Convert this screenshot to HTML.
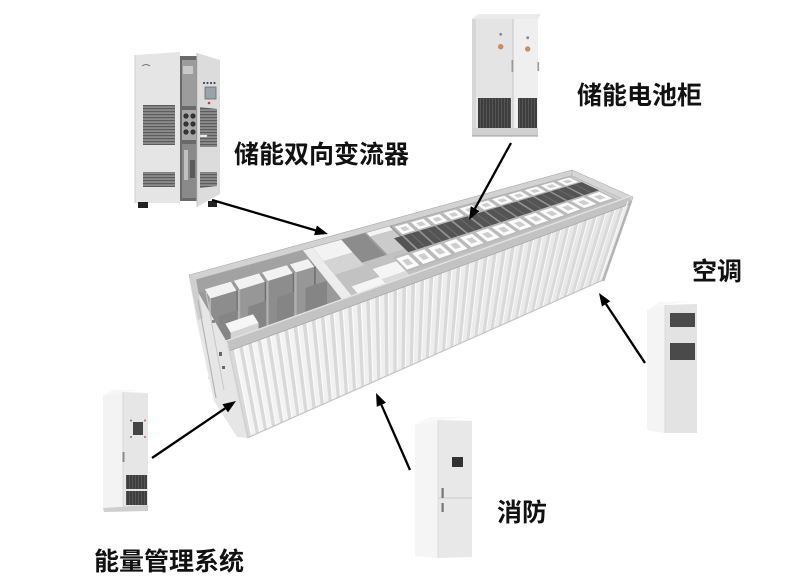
<!DOCTYPE html>
<html><head><meta charset="utf-8">
<style>
html,body{margin:0;padding:0;background:#fff;width:787px;height:588px;overflow:hidden;}
svg{display:block;}
.lbl{font-family:"Liberation Sans","Noto Sans CJK SC",sans-serif;font-weight:bold;font-size:25px;fill:#111;}
</style></head><body>
<svg id="s" width="787" height="588" viewBox="0 0 787 588" xmlns="http://www.w3.org/2000/svg">
<defs>
<pattern id="vent" width="4" height="3" patternUnits="userSpaceOnUse"><rect width="4" height="3" fill="#8c8c8c"/><rect width="4" height="1.2" fill="#5c5c5c"/></pattern>
<pattern id="dvent" width="3" height="3" patternUnits="userSpaceOnUse"><rect width="3" height="3" fill="#3e3e3e"/><rect width="1" height="3" fill="#555"/></pattern>
<linearGradient id="ff" gradientUnits="userSpaceOnUse" x1="228" y1="0" x2="630" y2="0"><stop offset="0" stop-color="#f5f5f5"/><stop offset="1" stop-color="#e6e6e6"/></linearGradient>
</defs>
<rect width="787" height="588" fill="#fff"/>

<!-- container interior -->
<polygon points="190,278 572,173 630,200 228,345" fill="#b4b4b4"/>
<g id="inner"></g>
<!-- far rail -->
<polygon points="189,275 572,170 574,175 191,281" fill="#d2d2d2" stroke="#a8a8a8" stroke-width="0.6"/>
<!-- right end rail -->
<polygon points="572,170 633,197 631,203 572,176" fill="#d6d6d6" stroke="#aaa" stroke-width="0.6"/>
<!-- front face -->
<polygon points="228,345 630,200 603,280 247,438" fill="url(#ff)"/>
<g id="stripes"></g>
<line x1="247" y1="438" x2="603" y2="280" stroke="#c4c4c4" stroke-width="1.2"/>
<!-- near rail -->
<polygon points="226,341 631,196 630,204 229,351" fill="#c3c3c3"/>
<line x1="226" y1="341" x2="631" y2="196" stroke="#e2e2e2" stroke-width="1.4"/>
<line x1="229" y1="351" x2="630" y2="204" stroke="#a9a9a9" stroke-width="0.8"/>
<!-- left end face -->
<polygon points="189,277 228,344 248,438 237,437 214,401 196,318" fill="#e6e6e6"/>
<polygon points="189,277 196,279 203,318 198,320" fill="#cfcfcf"/>
<line x1="198" y1="300" x2="216" y2="398" stroke="#b5b5b5" stroke-width="1.2"/>
<line x1="206" y1="292" x2="224" y2="390" stroke="#c8c8c8" stroke-width="1"/>
<rect x="219" y="352" width="3" height="4" fill="#666"/>
<rect x="222" y="366" width="3" height="3" fill="#666"/>
<rect x="212" y="320" width="3" height="3" fill="#888"/>
<line x1="228" y1="345" x2="248" y2="438" stroke="#cfcfcf" stroke-width="1.5"/>
<!-- right post -->
<line x1="631" y1="201" x2="603" y2="281" stroke="#b3b3b3" stroke-width="2.5"/>
<line x1="628" y1="201" x2="601" y2="279" stroke="#f4f4f4" stroke-width="1"/>

<!-- PCS cabinet -->
<polygon points="135,55 180,52 180,203 135,203" fill="#e5e5e5"/>
<line x1="135" y1="55" x2="135" y2="203" stroke="#cfcfcf" stroke-width="1"/>
<rect x="143" y="105" width="32" height="40" fill="url(#vent)"/>
<rect x="143" y="172" width="32" height="15" fill="url(#vent)"/>
<path d="M142 66 q4 -3 8 0" stroke="#777" stroke-width="1" fill="none"/>
<rect x="180" y="56" width="18" height="145" fill="#6a6a6a"/>
<rect x="182" y="60" width="14" height="46" fill="#9c9c9c"/>
<rect x="183" y="66" width="10" height="8" fill="#c8c8c8"/>
<rect x="182" y="110" width="14" height="30" fill="#a8a8a8"/>
<circle cx="186" cy="116" r="2.6" fill="#333"/><circle cx="193" cy="116" r="2.6" fill="#333"/>
<circle cx="186" cy="124" r="2.6" fill="#333"/><circle cx="193" cy="124" r="2.6" fill="#333"/>
<circle cx="186" cy="132" r="2.6" fill="#333"/><circle cx="193" cy="132" r="2.6" fill="#333"/>
<rect x="182" y="144" width="14" height="54" fill="#8a8a8a"/>
<rect x="184" y="150" width="4" height="30" fill="#c0c0c0"/>
<rect x="190" y="160" width="5" height="18" fill="#5a5a5a"/>
<polygon points="197,53 220,60 220,194 197,207" fill="#dcdcdc"/>
<line x1="197" y1="53" x2="197" y2="207" stroke="#c4c4c4" stroke-width="1"/>
<polygon points="200,107 217,109 217,147 200,147" fill="url(#vent)"/>
<polygon points="200,172 217,172 217,186 200,188" fill="url(#vent)"/>
<rect x="205" y="87" width="11" height="12" fill="#9aa2aa" stroke="#6a6a6a" stroke-width="0.8"/>
<circle cx="204" cy="83" r="1.1" fill="#446"/><circle cx="207.5" cy="83" r="1.1" fill="#446"/>
<circle cx="211" cy="83" r="1.1" fill="#446"/><circle cx="214.5" cy="83" r="1.1" fill="#446"/>
<circle cx="209" cy="103" r="1.3" fill="#d33"/>
<rect x="200" y="135" width="7" height="2" fill="#fafafa" stroke="#aaa" stroke-width="0.4"/>
<rect x="138" y="202" width="10" height="6" fill="#222"/>
<rect x="208" y="201" width="9" height="6" fill="#222"/>

<!-- Battery cabinet -->
<polygon points="472,19 478,14 541,14 538,19" fill="#eaeaea"/>
<rect x="472" y="19" width="41" height="110" fill="#e4e4e4"/>
<rect x="472" y="19" width="4" height="110" fill="#d6d6d6"/>
<rect x="513" y="19" width="25" height="110" fill="#efefef"/>
<line x1="513" y1="19" x2="513" y2="129" stroke="#c6c6c6" stroke-width="1"/>
<rect x="478" y="98" width="33" height="30" fill="url(#dvent)"/>
<rect x="518" y="98" width="19" height="30" fill="url(#dvent)"/>
<rect x="472" y="128" width="66" height="8" fill="#d0d0d0"/>
<line x1="472" y1="136" x2="538" y2="136" stroke="#9a9a9a" stroke-width="1"/>
<circle cx="500.7" cy="34.3" r="1.4" fill="#888"/>
<circle cx="500.7" cy="46.7" r="2.4" fill="#e08a4a" stroke="#999" stroke-width="0.6"/>
<circle cx="527.7" cy="37.7" r="1.4" fill="#888"/>
<circle cx="527.7" cy="49" r="2.4" fill="#e08a4a" stroke="#999" stroke-width="0.6"/>
<rect x="511.5" y="60" width="1.8" height="12" fill="#9a9a9a"/>
<rect x="537.5" y="62" width="1.6" height="9" fill="#9a9a9a"/>

<!-- Air conditioner -->
<polygon points="647,310 665,305 665,433 647,430" fill="#f4f4f4"/>
<polygon points="665,305 697,304 697,433 665,433" fill="#e3e3e3"/>
<polygon points="647,310 660,302 692,301 665,305" fill="#f7f7f7"/>
<rect x="670" y="313" width="25" height="14" fill="#4a4a4a"/>
<rect x="670" y="343" width="25" height="17" fill="#4a4a4a"/>
<line x1="665" y1="305" x2="665" y2="433" stroke="#d6d6d6" stroke-width="0.8"/>

<!-- Fire system -->
<polygon points="415,425 438,420 438,558 415,556" fill="#f5f5f5"/>
<polygon points="438,420 472,421 472,557 438,558" fill="#e8e8e8"/>
<polygon points="415,425 430,417 466,417 438,420" fill="#f8f8f8"/>
<line x1="438" y1="498" x2="472" y2="498" stroke="#cdcdcd" stroke-width="1"/>
<line x1="438" y1="420" x2="438" y2="558" stroke="#d8d8d8" stroke-width="0.8"/>
<rect x="452" y="457" width="11" height="10" fill="#333"/>
<rect x="441.5" y="488" width="2.2" height="10" fill="#777"/>
<rect x="441.5" y="503" width="2.2" height="9" fill="#777"/>

<!-- EMS -->
<polygon points="103,396 123,392 123,507 103,509" fill="#f3f3f3"/>
<polygon points="123,392 148,393 148,506 123,507" fill="#e6e6e6"/>
<polygon points="103,396 113,390 140,390 123,392" fill="#f6f6f6"/>
<line x1="123" y1="392" x2="123" y2="507" stroke="#d4d4d4" stroke-width="0.8"/>
<rect x="133" y="422" width="10" height="13" fill="#444"/>
<circle cx="131" cy="420.5" r="1" fill="#777"/><circle cx="145" cy="420.5" r="1" fill="#d55"/>
<circle cx="131" cy="437" r="1" fill="#777"/><circle cx="145" cy="437" r="1" fill="#d55"/>
<rect x="122.5" y="452" width="2" height="10" fill="#888"/>
<rect x="126" y="475" width="21" height="14" fill="url(#dvent)"/>
<rect x="126" y="491" width="21" height="14" fill="url(#dvent)"/>
<polygon points="103,508 148,505 148,511 104,512" fill="#cfcfcf"/>

<!-- arrows -->
<g stroke="#000" stroke-width="2.3" fill="none">
<line x1="212" y1="200" x2="316" y2="230.5"/>
<line x1="511" y1="143" x2="475" y2="208.6"/>
<line x1="645" y1="363" x2="606" y2="304"/>
<line x1="410" y1="470" x2="381.4" y2="404.8"/>
<line x1="152" y1="458" x2="225.2" y2="408.3"/>
</g>
<g fill="#000">
<polygon points="328,234 314.1,235.1 316.9,225.5"/>
<polygon points="469,220 470.8,206.2 479.6,211"/>
<polygon points="599,293 610.3,301.2 601.9,306.6"/>
<polygon points="376,393 386,402.7 376.8,406.9"/>
<polygon points="236,401 228,412.4 222.4,404.2"/>
</g>

<!-- labels -->
<text class="lbl" x="234" y="163">储能双向变流器</text>
<text class="lbl" x="577" y="104">储能电池柜</text>
<text class="lbl" x="692" y="280">空调</text>
<text class="lbl" x="497" y="521">消防</text>
<text class="lbl" x="94" y="570">能量管理系统</text>
</svg>
<script>
(function(){
var NS="http://www.w3.org/2000/svg";
var inner=document.getElementById("inner");
var str=document.getElementById("stripes");
function P(t,s){return [190+38*s+(382+20*s)*t, 278+67*s-(105+40*s)*t];}
function poly(pts,fill,parent){var e=document.createElementNS(NS,"polygon");
 e.setAttribute("points",pts.map(function(p){return p[0].toFixed(1)+","+p[1].toFixed(1);}).join(" "));
 e.setAttribute("fill",fill);parent.appendChild(e);return e;}
function Q(t0,t1,s0,s1,fill){return poly([P(t0,s0),P(t1,s0),P(t1,s1),P(t0,s1)],fill,inner);}
function V(t0,t1,s,h,fill){var a=P(t0,s),b=P(t1,s);return poly([a,b,[b[0],b[1]+h],[a[0],a[1]+h]],fill,inner);}
// left compartment
Q(0,0.29,0,0.22,"#a2a2a2");
Q(0,0.29,0.22,1,"#9a9a9a");
var cb=[0.015,0.09,0.163,0.235,0.29];
for(var i=0;i<4;i++){
 V(cb[i],cb[i+1],0.34,80,i%2?"#979797":"#8d8d8d");
 V(cb[i],cb[i]+0.006,0.34,80,"#b0b0b0");
 V(cb[i+1]-0.004,cb[i+1],0.34,80,"#707070");
 Q(cb[i]+0.004,cb[i+1]-0.004,0.2,0.34,"#f2f2f2");
 V(cb[i],cb[i+1],0.6,40,"#858585");
}
Q(0.02,0.09,0.72,0.86,"#f6f6f6");
V(0.02,0.09,0.86,20,"#d4d4d4");
// divider
Q(0.29,0.315,0,1,"#ededed");
// middle
Q(0.315,0.45,0,0.5,"#8c8c8c");
Q(0.315,0.5,0.5,1,"#c2c2c2");
Q(0.315,0.39,0.02,0.3,"#f3f3f3");
Q(0.315,0.39,0.3,0.55,"#d4d4d4");
Q(0.33,0.4,0.8,1,"#f5f5f5");
Q(0.4,0.46,0.65,0.85,"#f5f5f5");
Q(0.4,0.46,0.85,1,"#dadada");
Q(0.45,0.52,0,0.5,"#9a9a9a");
Q(0.455,0.515,0.03,0.13,"#f4f4f4");
Q(0.455,0.515,0.13,0.5,"#cbcbcb");
// battery racks
Q(0.52,0.985,0,0.06,"#a8a8a8");
Q(0.5,0.985,0.27,0.57,"#545454");
function mod(t0,t1,s0,s1){var d=t1-t0,e=s1-s0;
 Q(t0,t1,s0,s1,"#bababa");
 Q(t0+0.12*d,t1-0.12*d,s0+0.12*e,s1-0.12*e,"#fbfbfb");
 Q(t0+0.32*d,t1-0.32*d,s0+0.32*e,s1-0.32*e,"#cdcdcd");}
var n=11,a=0.52,b=0.985,d=(b-a)/n;
for(i=0;i<n;i++){mod(a+i*d,a+(i+1)*d,0.06,0.27);
 Q(a+i*d,a+i*d+0.005,0.27,0.57,"#939393");
 Q(a+(i+0.5)*d,a+(i+0.5)*d+0.003,0.27,0.57,"#6c6c6c");}
n=13;a=0.46;d=(b-a)/n;
for(i=0;i<n;i++){mod(a+i*d,a+(i+1)*d,0.57,0.87);}
Q(0.46,0.985,0.87,1,"#c0c0c0");
Q(0.985,1,0,1,"#d2d2d2");
// corrugation stripes
var B=[228,345],E=[630,200],C=[247,438],F=[603,280];
function L(p,q,u){return [p[0]+(q[0]-p[0])*u,p[1]+(q[1]-p[1])*u];}
var N=44;
for(i=0;i<N;i++){
 var u0=(i+0.1)/N,u1=(i+0.5)/N;
 poly([L(B,E,u0),L(B,E,u1),L(C,F,u1),L(C,F,u0)],"#d9d9d9",str);
 var u2=(i+0.5)/N,u3=(i+0.62)/N;
 poly([L(B,E,u2),L(B,E,u3),L(C,F,u3),L(C,F,u2)],"#fbfbfb",str);
}
})();
</script>
</body></html>
